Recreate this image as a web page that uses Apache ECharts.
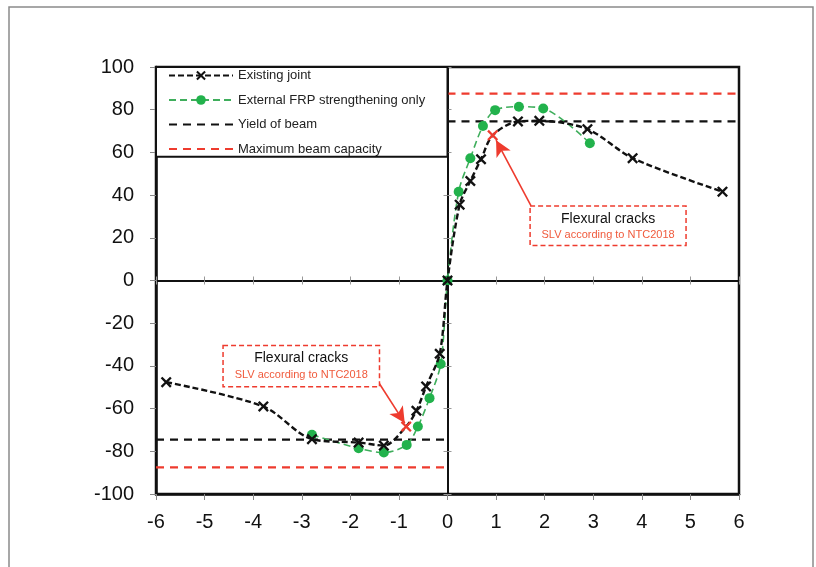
<!DOCTYPE html>
<html>
<head>
<meta charset="utf-8">
<script src="https://cdn.jsdelivr.net/npm/echarts@6/dist/echarts.min.js"></script>
<style>
  html, body { margin: 0; padding: 0; background: #fff; }
  #chart { width: 816px; height: 567px; }
</style>
</head>
<body>
<div id="chart"></div>
<script>
// Existing joint (hysteresis envelope)
const existX = [-5.79, -3.79, -2.79, -1.83, -1.31, -0.85, -0.64, -0.44, -0.16, 0, 0.25, 0.47, 0.69, 0.93, 1.45, 1.89, 2.88, 3.81, 5.66]
const existY = [-47.6, -59, -74.3, -75.9, -77.3, -68.4, -61, -49.6, -34.3, 0, 35.5, 46.6, 56.8, 68, 74.5, 74.8, 70.9, 57.3, 41.6]
// points marked red (flexural cracks, SLV)
const crackIdx = [5, 13]

// External FRP strengthening only
const frpX = [-2.79, -1.83, -1.31, -0.84, -0.61, -0.37, -0.14, 0, 0.23, 0.47, 0.73, 0.98, 1.47, 1.97, 2.93]
const frpY = [-72.3, -78.6, -80.6, -77, -68.4, -55.1, -39.1, 0, 41.6, 57.3, 72.4, 79.8, 81.4, 80.6, 64.3]

const yieldBeam = 74.5
const maxBeam = 87.5

const xTicks = [-6, 6, 1]
const yTicks = [-100, 100, 20]

// annotation boxes in data coords: [left, top, right, bottom]
const noteBoxes = [[1.70, 34.9, 4.91, 16.4], [-4.62, -30.5, -1.40, -49.8]]
const noteArrows = [[[1.72, 34.9], [1.0, 65.7]], [[-1.41, -48], [-0.88, -66.8]]]
const noteTitle = 'Flexural cracks'
const noteSub = 'SLV according to NTC2018'

const RED = '#ee3b2e'
const GREEN = '#22b24c'
const CROSS = 'path://M0,1.5L1.5,0L5,3.5L8.5,0L10,1.5L6.5,5L10,8.5L8.5,10L5,6.5L1.5,10L0,8.5L3.5,5Z'

const chart = echarts.init(document.getElementById('chart'))

const existData = existX.map((x, i) => {
  const d = { value: [x, existY[i]] }
  if (crackIdx.includes(i)) d.itemStyle = { color: RED }
  return d
})
const frpData = frpX.map((x, i) => [x, frpY[i]])

const lab = { fontFamily: 'Liberation Sans, Arial, sans-serif', fontSize: 20, color: '#111' }

const hLine = (name, y, x0, x1, color) => ({
  name, type: 'line', data: [[x0, y], [x1, y]], symbol: 'none', silent: true,
  lineStyle: { color, width: 2.2, type: [8, 6] }, itemStyle: { color }, z: 1,
})

chart.setOption({
  animation: false,
  grid: { left: 156, right: 77, top: 67, bottom: 73, show: true, borderColor: '#111', borderWidth: 2.5 },
  legend: {
    orient: 'vertical', left: 168, top: 69, padding: 0, itemGap: 11.5,
    itemWidth: 64, itemHeight: 12, z: 10,
    textStyle: { fontFamily: 'Liberation Sans, Arial, sans-serif', fontSize: 13, color: '#222' },
    data: [
      'Existing joint',
      'External FRP strengthening only',
      { name: 'Yield of beam', itemStyle: { opacity: 0 } },
      { name: 'Maximum beam capacity', itemStyle: { opacity: 0 } },
    ],
  },
  xAxis: [
    {
      type: 'value', min: xTicks[0], max: xTicks[1], interval: xTicks[2], position: 'bottom',
      axisLine: { onZero: false, lineStyle: { color: '#111', width: 2.5 } },
      axisTick: { length: 6, lineStyle: { color: '#888' } },
      axisLabel: { ...lab, margin: 18 },
      splitLine: { show: false },
    },
    {
      type: 'value', min: xTicks[0], max: xTicks[1], interval: xTicks[2],
      axisLine: { onZero: true, lineStyle: { color: '#111', width: 2 } },
      axisTick: { length: 4, lineStyle: { color: '#999' } },
      axisLabel: { show: false }, splitLine: { show: false },
    },
    {
      type: 'value', min: xTicks[0], max: xTicks[1], interval: xTicks[2],
      axisLine: { onZero: true, show: false },
      axisTick: { inside: true, length: 4, lineStyle: { color: '#999' } },
      axisLabel: { show: false }, splitLine: { show: false },
    },
  ],
  yAxis: [
    {
      type: 'value', min: yTicks[0], max: yTicks[1], interval: yTicks[2], position: 'left',
      axisLine: { show: true, onZero: false, lineStyle: { color: '#111', width: 2.5 } },
      axisTick: { show: true, length: 6, lineStyle: { color: '#888' } },
      axisLabel: { ...lab, margin: 22 },
      splitLine: { show: false },
    },
    {
      type: 'value', min: yTicks[0], max: yTicks[1], interval: yTicks[2],
      axisLine: { show: true, onZero: true, lineStyle: { color: '#111', width: 2 } },
      axisTick: { show: true, length: 4, lineStyle: { color: '#999' } },
      axisLabel: { show: false }, splitLine: { show: false },
    },
    {
      type: 'value', min: yTicks[0], max: yTicks[1], interval: yTicks[2],
      axisLine: { show: false, onZero: true },
      axisTick: { show: true, inside: true, length: 4, lineStyle: { color: '#999' } },
      axisLabel: { show: false }, splitLine: { show: false },
    },
  ],
  series: [
    hLine('Yield of beam', yieldBeam, 0, xTicks[1], '#111'),
    hLine('Yield of beam', -yieldBeam, xTicks[0], 0, '#111'),
    hLine('Maximum beam capacity', maxBeam, 0, xTicks[1], RED),
    hLine('Maximum beam capacity', -maxBeam, xTicks[0], 0, RED),
    {
      name: 'External FRP strengthening only',
      type: 'line', data: frpData, smooth: 0.3,
      symbol: 'circle', symbolSize: 10,
      lineStyle: { color: '#3fae5c', width: 1.6, type: [7, 4] },
      itemStyle: { color: GREEN },
      z: 3,
    },
    {
      name: 'Existing joint',
      type: 'line', data: existData, smooth: 0.3,
      symbol: CROSS, symbolSize: 11,
      lineStyle: { color: '#111', width: 2.4, type: [6, 3] },
      itemStyle: { color: '#111' },
      z: 4,
      markLine: {
        silent: true, symbol: ['none', 'arrow'], symbolSize: [12, 16],
        lineStyle: { color: RED, width: 1.6, type: 'solid' },
        label: { show: false },
        data: noteArrows.map(([a, b]) => [{ coord: a }, { coord: b }]),
      },
    },
  ],
})

// legend box and annotation boxes, placed from data coords
const px = p => chart.convertToPixel({ gridIndex: 0 }, p)
const tl = px([xTicks[0], yTicks[1]])
const lb = px([0, 58])
const graphics = [
  {
    type: 'rect', z: 5, silent: true,
    shape: { x: tl[0], y: tl[1], width: lb[0] - tl[0], height: lb[1] - tl[1] },
    style: { fill: '#fff', stroke: '#111', lineWidth: 2 },
  },
  {
    type: 'rect', z: -10, silent: true,
    shape: { x: 9, y: 7, width: 804, height: 620 },
    style: { fill: 'none', stroke: '#8a8a8a', lineWidth: 1.5 },
  },
]
noteBoxes.forEach(([l, t, r, b]) => {
  const p0 = px([l, t])
  const p1 = px([r, b])
  const cx = (p0[0] + p1[0]) / 2
  graphics.push({
    type: 'rect', z: 6, silent: true,
    shape: { x: p0[0], y: p0[1], width: p1[0] - p0[0], height: p1[1] - p0[1] },
    style: { fill: '#fff', stroke: RED, lineWidth: 1.5, lineDash: [5, 3] },
  })
  graphics.push({
    type: 'text', z: 7, silent: true, x: cx, y: p0[1] + 13,
    style: { text: noteTitle, fill: '#111', font: '14px Liberation Sans, Arial, sans-serif', align: 'center', verticalAlign: 'middle' },
  })
  graphics.push({
    type: 'text', z: 7, silent: true, x: cx, y: p0[1] + 29,
    style: { text: noteSub, fill: '#f05a3c', font: '11px Liberation Sans, Arial, sans-serif', align: 'center', verticalAlign: 'middle' },
  })
})
chart.setOption({ graphic: graphics })
</script>
</body>
</html>
